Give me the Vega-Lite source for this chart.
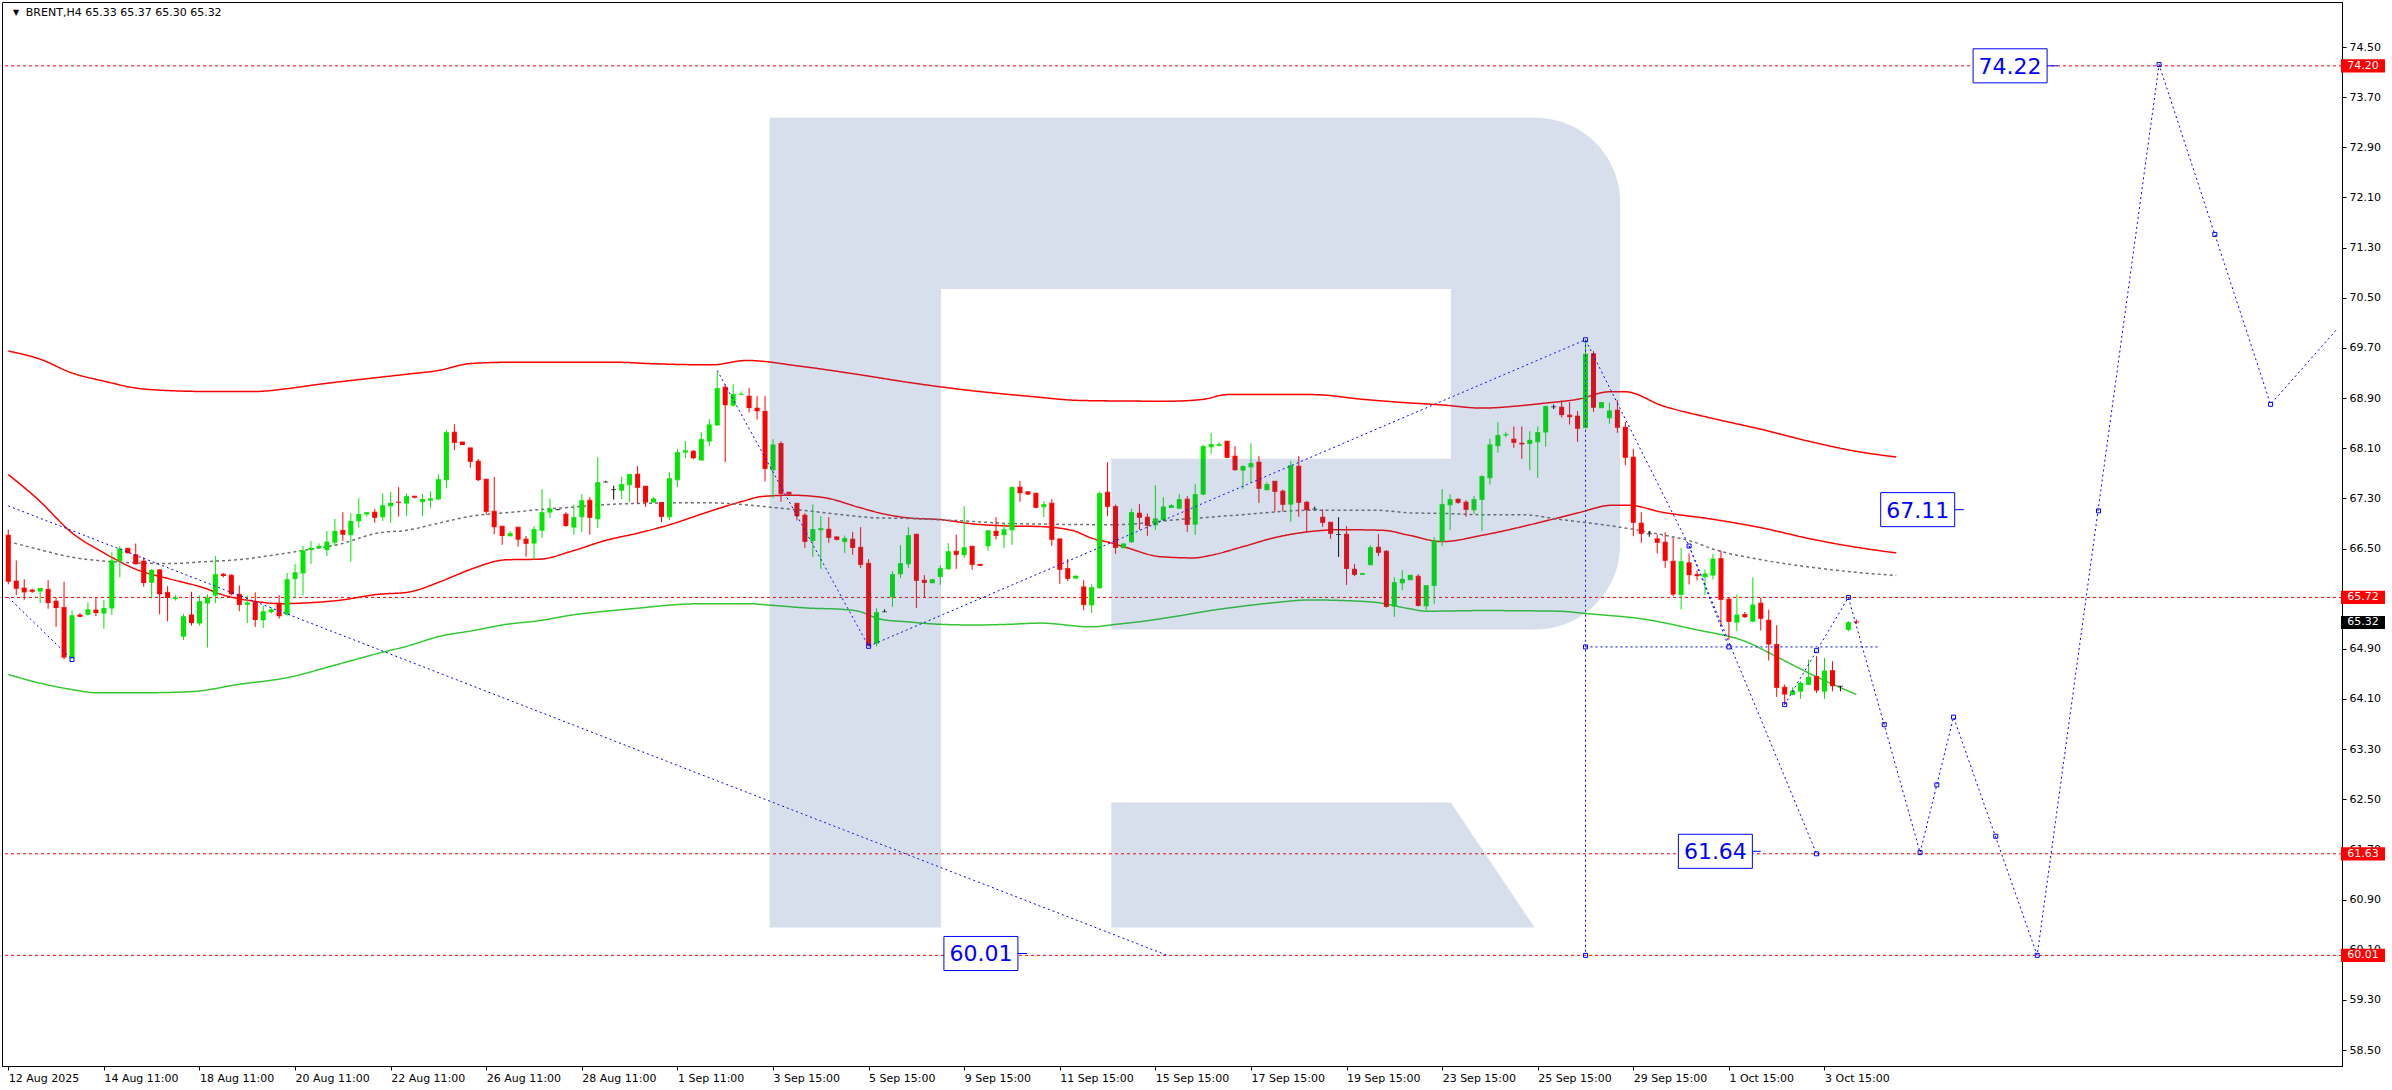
{
"$schema": "https://vega.github.io/schema/vega-lite/v6.json",
"width": 2340, "height": 1064,
"autosize": {"type": "none"},
"padding": {"left": 2, "top": 2, "right": 50, "bottom": 24},
"background": "white",
"config": {
  "view": {"stroke": "#000000", "strokeWidth": 1},
  "axis": {"grid": false, "domainColor": "#000000", "tickColor": "#000000", "labelColor": "#000000", "labelFont": "DejaVu Sans", "labelFontSize": 11, "tickSize": 4, "domainWidth": 1, "tickWidth": 1}
},
"datasets": {
  "k": [
{"i":0,"o":66.71,"h":66.80,"l":65.93,"c":65.97},{"i":1,"o":65.98,"h":66.31,"l":65.755,"c":65.86},{"i":2,"o":65.87,"h":66.01,"l":65.68,"c":65.80},{"i":3,"o":65.84,"h":65.86,"l":65.79,"c":65.81},{"i":4,"o":65.82,"h":65.87,"l":65.63,"c":65.87},{"i":5,"o":65.85,"h":65.995,"l":65.54,"c":65.63},{"i":6,"o":65.66,"h":65.71,"l":65.25,"c":65.55},{"i":7,"o":65.56,"h":65.97,"l":64.73,"c":64.76},{"i":8,"o":64.76,"h":65.51,"l":64.73,"c":65.435},{"i":9,"o":65.44,"h":65.47,"l":65.405,"c":65.41},
{"i":10,"o":65.45,"h":65.64,"l":65.43,"c":65.53},{"i":11,"o":65.52,"h":65.72,"l":65.42,"c":65.47},{"i":12,"o":65.47,"h":65.68,"l":65.22,"c":65.55},{"i":13,"o":65.55,"h":66.44,"l":65.44,"c":66.31},{"i":14,"o":66.31,"h":66.54,"l":66.04,"c":66.50},{"i":15,"o":66.505,"h":66.51,"l":66.42,"c":66.425},{"i":16,"o":66.40,"h":66.58,"l":66.245,"c":66.25},{"i":17,"o":66.30,"h":66.36,"l":65.89,"c":65.95},{"i":18,"o":65.96,"h":66.17,"l":65.70,"c":66.16},{"i":19,"o":66.16,"h":66.17,"l":65.45,"c":65.77},
{"i":20,"o":65.80,"h":65.90,"l":65.34,"c":65.71},{"i":21,"o":65.70,"h":65.755,"l":65.67,"c":65.72},{"i":22,"o":65.10,"h":65.46,"l":65.04,"c":65.42},{"i":23,"o":65.44,"h":65.81,"l":65.27,"c":65.31},{"i":24,"o":65.31,"h":65.75,"l":65.27,"c":65.66},{"i":25,"o":65.63,"h":65.77,"l":64.92,"c":65.72},{"i":26,"o":65.755,"h":66.38,"l":65.63,"c":66.09},{"i":27,"o":66.09,"h":66.11,"l":66.04,"c":66.06},{"i":28,"o":66.075,"h":66.085,"l":65.75,"c":65.77},{"i":29,"o":65.77,"h":65.91,"l":65.50,"c":65.60},
{"i":30,"o":65.61,"h":65.75,"l":65.31,"c":65.64},{"i":31,"o":65.64,"h":65.80,"l":65.25,"c":65.36},{"i":32,"o":65.36,"h":65.59,"l":65.23,"c":65.50},{"i":33,"o":65.49,"h":65.56,"l":65.46,"c":65.53},{"i":34,"o":65.63,"h":65.755,"l":65.38,"c":65.42},{"i":35,"o":65.45,"h":66.11,"l":65.43,"c":66.01},{"i":36,"o":66.02,"h":66.25,"l":65.71,"c":66.12},{"i":37,"o":66.11,"h":66.54,"l":65.75,"c":66.47},{"i":38,"o":66.48,"h":66.62,"l":66.255,"c":66.51},{"i":39,"o":66.51,"h":66.58,"l":66.50,"c":66.54},
{"i":40,"o":66.48,"h":66.78,"l":66.38,"c":66.61},{"i":41,"o":66.60,"h":66.97,"l":66.54,"c":66.78},{"i":42,"o":66.79,"h":67.08,"l":66.62,"c":66.72},{"i":43,"o":66.72,"h":67.06,"l":66.29,"c":66.94},{"i":44,"o":66.94,"h":67.30,"l":66.83,"c":67.05},{"i":45,"o":67.05,"h":67.08,"l":67.01,"c":67.08},{"i":46,"o":67.08,"h":67.13,"l":66.91,"c":66.99},{"i":47,"o":67.005,"h":67.38,"l":66.94,"c":67.19},{"i":48,"o":67.18,"h":67.40,"l":66.91,"c":67.23},{"i":49,"o":67.24,"h":67.48,"l":67.01,"c":67.23},
{"i":50,"o":67.224,"h":67.38,"l":67.02,"c":67.335},{"i":51,"o":67.335,"h":67.34,"l":67.30,"c":67.31},{"i":52,"o":67.245,"h":67.37,"l":67.02,"c":67.29},{"i":53,"o":67.27,"h":67.41,"l":67.15,"c":67.30},{"i":54,"o":67.29,"h":67.68,"l":67.27,"c":67.606},{"i":55,"o":67.596,"h":68.39,"l":67.46,"c":68.356},{"i":56,"o":68.356,"h":68.484,"l":68.07,"c":68.186},{"i":57,"o":68.20,"h":68.20,"l":68.15,"c":68.15},{"i":58,"o":68.106,"h":68.106,"l":67.79,"c":67.883},{"i":59,"o":67.894,"h":67.925,"l":67.575,"c":67.59},
{"i":60,"o":67.606,"h":67.606,"l":67.04,"c":67.085},{"i":61,"o":67.095,"h":67.64,"l":66.73,"c":66.84},{"i":62,"o":66.856,"h":66.856,"l":66.56,"c":66.70},{"i":63,"o":66.70,"h":66.776,"l":66.70,"c":66.745},{"i":64,"o":66.84,"h":66.84,"l":66.53,"c":66.64},{"i":65,"o":66.65,"h":66.70,"l":66.37,"c":66.575},{"i":66,"o":66.585,"h":66.856,"l":66.32,"c":66.81},{"i":67,"o":66.79,"h":67.447,"l":66.67,"c":67.08},{"i":68,"o":67.08,"h":67.30,"l":66.99,"c":67.138},{"i":69,"o":67.12,"h":67.13,"l":67.11,"c":67.12},
{"i":70,"o":67.048,"h":67.08,"l":66.846,"c":66.86},{"i":71,"o":66.84,"h":67.20,"l":66.72,"c":67.00},{"i":72,"o":67.005,"h":67.367,"l":66.766,"c":67.27},{"i":73,"o":67.27,"h":67.32,"l":66.72,"c":66.99},{"i":74,"o":66.973,"h":67.957,"l":66.825,"c":67.558},{"i":75,"o":67.56,"h":67.58,"l":67.56,"c":67.56},{"i":76,"o":67.44,"h":67.50,"l":67.28,"c":67.44},{"i":77,"o":67.43,"h":67.644,"l":67.29,"c":67.527},{"i":78,"o":67.516,"h":67.69,"l":67.24,"c":67.686},{"i":79,"o":67.686,"h":67.814,"l":67.218,"c":67.468},
{"i":80,"o":67.495,"h":67.495,"l":67.165,"c":67.234},{"i":81,"o":67.24,"h":67.32,"l":67.23,"c":67.298},{"i":82,"o":67.234,"h":67.234,"l":66.92,"c":67.005},{"i":83,"o":67.005,"h":67.718,"l":66.952,"c":67.622},{"i":84,"o":67.596,"h":68.09,"l":67.48,"c":68.037},{"i":85,"o":68.037,"h":68.213,"l":67.94,"c":68.064},{"i":86,"o":68.053,"h":68.07,"l":67.925,"c":67.94},{"i":87,"o":67.91,"h":68.356,"l":67.91,"c":68.245},{"i":88,"o":68.213,"h":68.564,"l":68.13,"c":68.479},{"i":89,"o":68.468,"h":69.319,"l":68.468,"c":69.058},
{"i":90,"o":69.074,"h":69.117,"l":67.878,"c":68.787},{"i":91,"o":68.787,"h":69.122,"l":68.76,"c":68.963},{"i":92,"o":68.958,"h":69.005,"l":68.952,"c":68.968},{"i":93,"o":68.93,"h":69.06,"l":68.67,"c":68.74},{"i":94,"o":68.74,"h":68.93,"l":68.56,"c":68.69},{"i":95,"o":68.69,"h":68.93,"l":67.57,"c":67.77},{"i":96,"o":67.755,"h":68.245,"l":67.31,"c":68.16},{"i":97,"o":68.175,"h":68.21,"l":67.245,"c":67.372},{"i":98,"o":67.40,"h":67.40,"l":67.36,"c":67.36},{"i":99,"o":67.223,"h":67.223,"l":66.947,"c":67.016},
{"i":100,"o":67.032,"h":67.064,"l":66.51,"c":66.606},{"i":101,"o":66.628,"h":67.202,"l":66.367,"c":66.81},{"i":102,"o":66.798,"h":67.016,"l":66.175,"c":66.824},{"i":103,"o":66.808,"h":67.0,"l":66.59,"c":66.67},{"i":104,"o":66.686,"h":66.69,"l":66.63,"c":66.638},{"i":105,"o":66.61,"h":66.707,"l":66.43,"c":66.665},{"i":106,"o":66.65,"h":66.766,"l":66.40,"c":66.51},{"i":107,"o":66.52,"h":66.84,"l":66.19,"c":66.24},{"i":108,"o":66.265,"h":66.33,"l":64.94,"c":64.95},{"i":109,"o":64.99,"h":65.548,"l":64.94,"c":65.484},
{"i":110,"o":65.49,"h":65.53,"l":65.49,"c":65.49},{"i":111,"o":65.73,"h":66.138,"l":65.57,"c":66.09},{"i":112,"o":66.096,"h":66.553,"l":66.03,"c":66.266},{"i":113,"o":66.255,"h":66.84,"l":66.19,"c":66.713},{"i":114,"o":66.729,"h":66.729,"l":65.553,"c":65.984},{"i":115,"o":65.995,"h":66.075,"l":65.713,"c":65.952},{"i":116,"o":65.952,"h":66.01,"l":65.95,"c":66.01},{"i":117,"o":66.053,"h":66.234,"l":65.92,"c":66.186},{"i":118,"o":66.176,"h":66.585,"l":66.16,"c":66.457},{"i":119,"o":66.457,"h":66.723,"l":66.175,"c":66.399},
{"i":120,"o":66.399,"h":67.175,"l":66.35,"c":66.521},{"i":121,"o":66.537,"h":66.537,"l":66.16,"c":66.239},{"i":122,"o":66.25,"h":66.25,"l":66.22,"c":66.223},{"i":123,"o":66.543,"h":66.79,"l":66.463,"c":66.79},{"i":124,"o":66.777,"h":66.999,"l":66.644,"c":66.702},{"i":125,"o":66.718,"h":66.904,"l":66.505,"c":66.808},{"i":126,"o":66.797,"h":67.495,"l":66.558,"c":67.479},{"i":127,"o":67.479,"h":67.574,"l":67.245,"c":67.383},{"i":128,"o":67.404,"h":67.415,"l":67.35,"c":67.362},{"i":129,"o":67.383,"h":67.383,"l":67.143,"c":67.149},
{"i":130,"o":67.165,"h":67.255,"l":67.0,"c":67.207},{"i":131,"o":67.223,"h":67.287,"l":66.543,"c":66.638},{"i":132,"o":66.654,"h":66.654,"l":65.936,"c":66.16},{"i":133,"o":66.18,"h":66.33,"l":65.98,"c":66.016},{"i":134,"o":66.027,"h":66.074,"l":66.016,"c":66.064},{"i":135,"o":65.888,"h":65.994,"l":65.516,"c":65.6},{"i":136,"o":65.6,"h":65.93,"l":65.473,"c":65.883},{"i":137,"o":65.872,"h":67.404,"l":65.862,"c":67.383},{"i":138,"o":67.399,"h":67.878,"l":67.016,"c":67.165},{"i":139,"o":67.17,"h":67.2,"l":66.415,"c":66.51},
{"i":140,"o":66.51,"h":66.58,"l":66.51,"c":66.58},{"i":141,"o":66.606,"h":67.133,"l":66.59,"c":67.08},{"i":142,"o":67.064,"h":67.207,"l":66.798,"c":66.99},{"i":143,"o":67.0,"h":67.058,"l":66.702,"c":66.862},{"i":144,"o":66.878,"h":67.51,"l":66.798,"c":66.979},{"i":145,"o":66.957,"h":67.32,"l":66.936,"c":67.17},{"i":146,"o":67.154,"h":67.207,"l":67.149,"c":67.191},{"i":147,"o":67.143,"h":67.367,"l":67.133,"c":67.287},{"i":148,"o":67.287,"h":67.335,"l":66.766,"c":66.878},{"i":149,"o":66.888,"h":67.527,"l":66.718,"c":67.367},
{"i":150,"o":67.367,"h":68.154,"l":67.351,"c":68.133},{"i":151,"o":68.122,"h":68.34,"l":68.01,"c":68.165},{"i":152,"o":68.144,"h":68.197,"l":68.128,"c":68.165},{"i":153,"o":68.213,"h":68.213,"l":67.947,"c":67.947},{"i":154,"o":67.973,"h":68.133,"l":67.74,"c":67.75},{"i":155,"o":67.75,"h":67.83,"l":67.452,"c":67.814},{"i":156,"o":67.803,"h":68.181,"l":67.553,"c":67.862},{"i":157,"o":67.878,"h":67.973,"l":67.229,"c":67.452},{"i":158,"o":67.436,"h":67.559,"l":67.431,"c":67.527},{"i":159,"o":67.574,"h":67.574,"l":67.09,"c":67.404},
{"i":160,"o":67.415,"h":67.441,"l":67.09,"c":67.197},{"i":161,"o":67.207,"h":67.894,"l":66.925,"c":67.83},{"i":162,"o":67.814,"h":67.973,"l":67.005,"c":67.229},{"i":163,"o":67.239,"h":67.255,"l":66.766,"c":67.112},{"i":164,"o":67.128,"h":67.17,"l":67.128,"c":67.128},{"i":165,"o":67.0,"h":67.122,"l":66.846,"c":66.91},{"i":166,"o":66.92,"h":66.92,"l":66.654,"c":66.734},{"i":167,"o":66.723,"h":67.0,"l":66.367,"c":66.723},{"i":168,"o":66.729,"h":66.856,"l":65.92,"c":66.175},{"i":169,"o":66.17,"h":66.25,"l":66.058,"c":66.08},
{"i":170,"o":66.085,"h":66.11,"l":66.08,"c":66.106},{"i":171,"o":66.24,"h":66.553,"l":66.24,"c":66.521},{"i":172,"o":66.521,"h":66.729,"l":66.378,"c":66.431},{"i":173,"o":66.457,"h":66.473,"l":65.558,"c":65.569},{"i":174,"o":65.58,"h":66.043,"l":65.409,"c":65.963},{"i":175,"o":65.952,"h":66.154,"l":65.835,"c":66.016},{"i":176,"o":66.0,"h":66.08,"l":66.0,"c":66.08},{"i":177,"o":66.058,"h":66.09,"l":65.574,"c":65.585},{"i":178,"o":65.585,"h":65.915,"l":65.516,"c":65.915},{"i":179,"o":65.91,"h":66.68,"l":65.617,"c":66.628},
{"i":180,"o":66.617,"h":67.447,"l":66.537,"c":67.207},{"i":181,"o":67.197,"h":67.362,"l":66.793,"c":67.287},{"i":182,"o":67.287,"h":67.298,"l":67.213,"c":67.229},{"i":183,"o":67.239,"h":67.271,"l":67.005,"c":67.117},{"i":184,"o":67.117,"h":67.34,"l":67.053,"c":67.287},{"i":185,"o":67.282,"h":67.67,"l":66.782,"c":67.654},{"i":186,"o":67.628,"h":68.25,"l":67.52,"c":68.16},{"i":187,"o":68.139,"h":68.516,"l":68.027,"c":68.309},{"i":188,"o":68.31,"h":68.362,"l":68.277,"c":68.32},{"i":189,"o":68.245,"h":68.447,"l":68.106,"c":68.186},
{"i":190,"o":68.181,"h":68.447,"l":67.931,"c":68.16},{"i":191,"o":68.176,"h":68.372,"l":67.75,"c":68.234},{"i":192,"o":68.202,"h":68.447,"l":67.628,"c":68.357},{"i":193,"o":68.357,"h":68.782,"l":68.122,"c":68.772},{"i":194,"o":68.761,"h":68.798,"l":68.724,"c":68.761},{"i":195,"o":68.756,"h":68.862,"l":68.59,"c":68.628},{"i":196,"o":68.628,"h":68.835,"l":68.479,"c":68.596},{"i":197,"o":68.612,"h":68.692,"l":68.202,"c":68.41},{"i":198,"o":68.426,"h":69.809,"l":68.426,"c":69.607},{"i":199,"o":69.607,"h":69.649,"l":68.681,"c":68.745},
{"i":200,"o":68.745,"h":68.835,"l":68.745,"c":68.835},{"i":201,"o":68.585,"h":68.825,"l":68.49,"c":68.702},{"i":202,"o":68.708,"h":68.867,"l":68.346,"c":68.426},{"i":203,"o":68.436,"h":68.516,"l":67.83,"c":67.947},{"i":204,"o":67.958,"h":68.09,"l":66.697,"c":66.91},{"i":205,"o":66.905,"h":67.08,"l":66.591,"c":66.734},{"i":206,"o":66.734,"h":66.777,"l":66.686,"c":66.734},{"i":207,"o":66.655,"h":66.724,"l":66.421,"c":66.591},{"i":208,"o":66.601,"h":66.761,"l":66.192,"c":66.304},{"i":209,"o":66.298,"h":66.67,"l":65.74,"c":65.766},
{"i":210,"o":65.766,"h":66.511,"l":65.527,"c":66.298},{"i":211,"o":66.272,"h":66.421,"l":65.926,"c":66.075},{"i":212,"o":66.085,"h":66.149,"l":65.99,"c":66.059},{"i":213,"o":66.048,"h":66.165,"l":65.755,"c":66.101},{"i":214,"o":66.075,"h":66.415,"l":66.006,"c":66.34},{"i":215,"o":66.34,"h":66.468,"l":65.261,"c":65.681},{"i":216,"o":65.692,"h":65.713,"l":65.048,"c":65.33},{"i":217,"o":65.325,"h":65.766,"l":65.181,"c":65.447},{"i":218,"o":65.447,"h":65.489,"l":65.394,"c":65.404},{"i":219,"o":65.34,"h":66.037,"l":65.325,"c":65.606},
{"i":220,"o":65.628,"h":65.713,"l":65.192,"c":65.378},{"i":221,"o":65.357,"h":65.522,"l":64.713,"c":64.969},{"i":222,"o":64.969,"h":65.277,"l":64.133,"c":64.277},{"i":223,"o":64.287,"h":64.33,"l":64.011,"c":64.17},{"i":224,"o":64.17,"h":64.287,"l":64.16,"c":64.234},{"i":225,"o":64.224,"h":64.384,"l":64.101,"c":64.357},{"i":226,"o":64.33,"h":64.729,"l":64.33,"c":64.452},{"i":227,"o":64.458,"h":64.782,"l":64.197,"c":64.234},{"i":228,"o":64.224,"h":64.755,"l":64.101,"c":64.553},{"i":229,"o":64.553,"h":64.703,"l":64.224,"c":64.304},
{"i":230,"o":64.304,"h":64.304,"l":64.224,"c":64.304},{"i":231,"o":65.208,"h":65.34,"l":65.181,"c":65.325},{"i":232,"o":65.33,"h":65.37,"l":65.30,"c":65.32}
  ],
  "b": [
{"s":"u","i":0,"v":69.65},{"s":"u","i":4,"v":69.52},{"s":"u","i":8,"v":69.30},{"s":"u","i":12,"v":69.17},{"s":"u","i":16,"v":69.06},{"s":"u","i":20,"v":69.02},{"s":"u","i":25,"v":69.005},{"s":"u","i":31,"v":69.005},{"s":"u","i":35,"v":69.05},{"s":"u","i":39,"v":69.12},{"s":"u","i":43,"v":69.18},{"s":"u","i":46.5,"v":69.23},{"s":"u","i":50,"v":69.28},{"s":"u","i":54,"v":69.34},{"s":"u","i":58,"v":69.45},{"s":"u","i":62.5,"v":69.47},{"s":"u","i":70,"v":69.47},{"s":"u","i":76.7,"v":69.47},{"s":"u","i":80.4,"v":69.45},{"s":"u","i":88.3,"v":69.43},{"s":"u","i":92.7,"v":69.50},{"s":"u","i":99.3,"v":69.41},{"s":"u","i":106.5,"v":69.28},{"s":"u","i":113,"v":69.15},{"s":"u","i":120.8,"v":69.02},{"s":"u","i":128,"v":68.93},{"s":"u","i":135,"v":68.86},{"s":"u","i":145.8,"v":68.85},{"s":"u","i":150,"v":68.88},{"s":"u","i":153,"v":68.955},{"s":"u","i":163.8,"v":68.955},{"s":"u","i":170,"v":68.88},{"s":"u","i":175,"v":68.83},{"s":"u","i":180,"v":68.79},{"s":"u","i":185,"v":68.74},{"s":"u","i":190,"v":68.78},{"s":"u","i":193,"v":68.82},{"s":"u","i":197,"v":68.88},{"s":"u","i":201,"v":69.0},{"s":"u","i":203,"v":69.0},{"s":"u","i":207.6,"v":68.78},{"s":"u","i":213.8,"v":68.58},{"s":"u","i":220.1,"v":68.40},{"s":"u","i":226.4,"v":68.2},{"s":"u","i":232,"v":68.05},{"s":"u","i":237,"v":67.96},
{"s":"m","i":0,"v":67.68},{"s":"m","i":3.75,"v":67.28},{"s":"m","i":8,"v":66.75},{"s":"m","i":12,"v":66.43},{"s":"m","i":16,"v":66.17},{"s":"m","i":20.4,"v":66.01},{"s":"m","i":24.6,"v":65.87},{"s":"m","i":26.7,"v":65.77},{"s":"m","i":30.8,"v":65.66},{"s":"m","i":34.2,"v":65.62},{"s":"m","i":37,"v":65.63},{"s":"m","i":41.3,"v":65.67},{"s":"m","i":46.5,"v":65.77},{"s":"m","i":50,"v":65.80},{"s":"m","i":54.2,"v":65.97},{"s":"m","i":56.3,"v":66.08},{"s":"m","i":58.3,"v":66.18},{"s":"m","i":62.5,"v":66.32},{"s":"m","i":66.7,"v":66.33},{"s":"m","i":70.8,"v":66.46},{"s":"m","i":75,"v":66.63},{"s":"m","i":79.2,"v":66.75},{"s":"m","i":83.3,"v":66.89},{"s":"m","i":87.5,"v":67.07},{"s":"m","i":92.1,"v":67.25},{"s":"m","i":94.6,"v":67.33},{"s":"m","i":98.3,"v":67.35},{"s":"m","i":102.5,"v":67.31},{"s":"m","i":106.7,"v":67.16},{"s":"m","i":109.6,"v":67.06},{"s":"m","i":112.9,"v":66.99},{"s":"m","i":117.1,"v":66.96},{"s":"m","i":121.3,"v":66.89},{"s":"m","i":125.4,"v":66.86},{"s":"m","i":129.6,"v":66.85},{"s":"m","i":133.8,"v":66.78},{"s":"m","i":135.9,"v":66.67},{"s":"m","i":138.4,"v":66.59},{"s":"m","i":140.5,"v":66.51},{"s":"m","i":144.6,"v":66.37},{"s":"m","i":148.8,"v":66.35},{"s":"m","i":150.9,"v":66.39},{"s":"m","i":155,"v":66.53},{"s":"m","i":159.2,"v":66.68},{"s":"m","i":163.4,"v":66.77},{"s":"m","i":167.5,"v":66.80},{"s":"m","i":172.6,"v":66.79},{"s":"m","i":175.9,"v":66.71},{"s":"m","i":180,"v":66.61},{"s":"m","i":185,"v":66.71},{"s":"m","i":193,"v":66.94},{"s":"m","i":197.1,"v":67.07},{"s":"m","i":201.3,"v":67.19},{"s":"m","i":203.4,"v":67.19},{"s":"m","i":207.6,"v":67.08},{"s":"m","i":213.8,"v":66.97},{"s":"m","i":220.1,"v":66.83},{"s":"m","i":226.4,"v":66.65},{"s":"m","i":232,"v":66.52},{"s":"m","i":237,"v":66.43},
{"s":"g","i":0,"v":66.61},{"s":"g","i":4,"v":66.48},{"s":"g","i":8,"v":66.36},{"s":"g","i":12,"v":66.30},{"s":"g","i":16,"v":66.27},{"s":"g","i":20.4,"v":66.26},{"s":"g","i":24.6,"v":66.29},{"s":"g","i":28.8,"v":66.32},{"s":"g","i":33,"v":66.39},{"s":"g","i":37,"v":66.47},{"s":"g","i":41.3,"v":66.56},{"s":"g","i":46.5,"v":66.75},{"s":"g","i":50,"v":66.79},{"s":"g","i":54.2,"v":66.91},{"s":"g","i":58.3,"v":67.02},{"s":"g","i":62.5,"v":67.07},{"s":"g","i":66.7,"v":67.12},{"s":"g","i":70.8,"v":67.16},{"s":"g","i":75,"v":67.20},{"s":"g","i":79.2,"v":67.22},{"s":"g","i":87.5,"v":67.23},{"s":"g","i":92.4,"v":67.20},{"s":"g","i":96.3,"v":67.15},{"s":"g","i":100.4,"v":67.10},{"s":"g","i":104.6,"v":67.04},{"s":"g","i":108.8,"v":66.99},{"s":"g","i":112.9,"v":66.98},{"s":"g","i":121.3,"v":66.93},{"s":"g","i":125.4,"v":66.90},{"s":"g","i":139,"v":66.88},{"s":"g","i":146.7,"v":66.96},{"s":"g","i":155,"v":67.04},{"s":"g","i":163.4,"v":67.11},{"s":"g","i":171.7,"v":67.11},{"s":"g","i":175.9,"v":67.07},{"s":"g","i":180,"v":67.06},{"s":"g","i":185,"v":67.04},{"s":"g","i":190,"v":67.04},{"s":"g","i":195,"v":66.96},{"s":"g","i":201.3,"v":66.86},{"s":"g","i":207.6,"v":66.72},{"s":"g","i":211.7,"v":66.6},{"s":"g","i":213.8,"v":66.5},{"s":"g","i":220.1,"v":66.32},{"s":"g","i":226.4,"v":66.2},{"s":"g","i":232,"v":66.12},{"s":"g","i":237,"v":66.07},
{"s":"lg","i":0,"v":64.49},{"s":"lg","i":3.75,"v":64.36},{"s":"lg","i":8,"v":64.25},{"s":"lg","i":11,"v":64.20},{"s":"lg","i":17.5,"v":64.20},{"s":"lg","i":23.3,"v":64.22},{"s":"lg","i":28.8,"v":64.33},{"s":"lg","i":35,"v":64.44},{"s":"lg","i":41.3,"v":64.65},{"s":"lg","i":46.5,"v":64.83},{"s":"lg","i":50,"v":64.94},{"s":"lg","i":54.2,"v":65.10},{"s":"lg","i":58.3,"v":65.19},{"s":"lg","i":62.5,"v":65.29},{"s":"lg","i":66.7,"v":65.35},{"s":"lg","i":70.8,"v":65.44},{"s":"lg","i":75,"v":65.50},{"s":"lg","i":79.2,"v":65.55},{"s":"lg","i":83.3,"v":65.60},{"s":"lg","i":87.5,"v":65.62},{"s":"lg","i":92.7,"v":65.62},{"s":"lg","i":96.3,"v":65.59},{"s":"lg","i":100.4,"v":65.55},{"s":"lg","i":104.6,"v":65.53},{"s":"lg","i":106.7,"v":65.50},{"s":"lg","i":109.6,"v":65.37},{"s":"lg","i":112.9,"v":65.33},{"s":"lg","i":117.1,"v":65.29},{"s":"lg","i":121.3,"v":65.28},{"s":"lg","i":125.4,"v":65.29},{"s":"lg","i":129.6,"v":65.31},{"s":"lg","i":135.9,"v":65.25},{"s":"lg","i":139,"v":65.29},{"s":"lg","i":142.5,"v":65.34},{"s":"lg","i":146.7,"v":65.42},{"s":"lg","i":150.9,"v":65.51},{"s":"lg","i":155,"v":65.58},{"s":"lg","i":159.2,"v":65.64},{"s":"lg","i":163.4,"v":65.68},{"s":"lg","i":167.5,"v":65.67},{"s":"lg","i":171.7,"v":65.64},{"s":"lg","i":175.9,"v":65.54},{"s":"lg","i":178,"v":65.50},{"s":"lg","i":185,"v":65.51},{"s":"lg","i":194.6,"v":65.50},{"s":"lg","i":198.3,"v":65.46},{"s":"lg","i":205.5,"v":65.37},{"s":"lg","i":211.7,"v":65.21},{"s":"lg","i":218,"v":65.02},{"s":"lg","i":222.2,"v":64.76},{"s":"lg","i":226.4,"v":64.49},{"s":"lg","i":232,"v":64.17}
  ],
  "f": [
{"seg":"a","k":1,"i":0,"p":65.72},{"seg":"a","k":2,"i":8,"p":64.73},
{"seg":"b","k":1,"i":0,"p":67.18},{"seg":"b","k":2,"i":145.5,"p":60.01},
{"seg":"c","k":1,"i":89,"p":69.34},{"seg":"c","k":2,"i":108,"p":64.94},{"seg":"c","k":3,"i":198,"p":69.83},{"seg":"c","k":4,"i":211,"p":66.54},{"seg":"c","k":5,"i":216,"p":64.93},
{"seg":"d","k":1,"i":211,"p":66.54},{"seg":"d","k":2,"i":227,"p":61.63},
{"seg":"e","k":1,"i":198,"p":69.83},{"seg":"e","k":2,"i":198,"p":60.01},
{"seg":"h","k":1,"i":198,"p":64.93},{"seg":"h","k":2,"i":235,"p":64.93},
{"seg":"g","k":1,"i":223,"p":64.01},{"seg":"g","k":2,"i":231,"p":65.72},{"seg":"g","k":3,"i":240,"p":61.65},{"seg":"g","k":4,"i":244.2,"p":63.81},{"seg":"g","k":5,"i":254.7,"p":60.01},{"seg":"g","k":6,"i":270,"p":74.22},{"seg":"g","k":7,"i":284,"p":68.8},{"seg":"g","k":8,"i":292.34,"p":70.0}
  ],
  "mk": [
{"i":8,"p":64.73},{"i":108,"p":64.94},{"i":198,"p":69.83},{"i":211,"p":66.54},{"i":216,"p":64.93},{"i":227,"p":61.63},{"i":198,"p":64.93},{"i":198,"p":60.01},{"i":223,"p":64.01},{"i":227,"p":64.87},{"i":231,"p":65.72},{"i":235.5,"p":63.69},{"i":240,"p":61.65},{"i":242.1,"p":62.73},{"i":244.2,"p":63.81},{"i":249.5,"p":61.91},{"i":254.7,"p":60.01},{"i":262.4,"p":67.1},{"i":270,"p":74.22},{"i":277,"p":71.51},{"i":284,"p":68.8}
  ],
  "lab": [
{"t":"74.22","i":251.3,"p":74.20,"a":255.9,"z":257.3},{"t":"67.11","i":239.7,"p":67.12,"a":244.3,"z":245.5},{"t":"61.64","i":214.3,"p":61.67,"a":218.9,"z":220.0},{"t":"60.01","i":122.1,"p":60.04,"a":126.7,"z":127.9}
  ]
},
"layer": [
  {
    "data": {"values": [{"p":74.20},{"p":65.72},{"p":61.63},{"p":60.01}]},
    "mark": {"type": "rule", "color": "#ff0000", "strokeWidth": 1, "strokeDash": [3, 3]},
    "encoding": {
      "y": {"field": "p", "type": "quantitative", "title": null, "scale": {"domain": [58.245, 75.218], "nice": false, "zero": false},
        "axis": {"orient": "right", "values": [58.5,59.3,60.1,60.9,61.7,62.5,63.3,64.1,64.9,65.7,66.5,67.3,68.1,68.9,69.7,70.5,71.3,72.1,72.9,73.7,74.5], "format": ".2f", "labelPadding": 3, "labelOverlap": false, "labelBaseline": "middle"}}
    }
  },
  {
    "data": {"name": "b"},
    "mark": {"type": "line", "interpolate": "monotone"},
    "encoding": {
      "x": {"field": "i", "type": "quantitative", "title": null, "scale": {"domain": [-0.1625, 292.3375], "nice": false, "zero": false},
        "axis": {"orient": "bottom", "values": [0,12,24,36,48,60,72,84,96,108,120,132,144,156,168,180,192,204,216,228],
          "labelExpr": "['12 Aug 2025','14 Aug 11:00','18 Aug 11:00','20 Aug 11:00','22 Aug 11:00','26 Aug 11:00','28 Aug 11:00','1 Sep 11:00','3 Sep 15:00','5 Sep 15:00','9 Sep 15:00','11 Sep 15:00','15 Sep 15:00','17 Sep 15:00','19 Sep 15:00','23 Sep 15:00','25 Sep 15:00','29 Sep 15:00','1 Oct 15:00','3 Oct 15:00'][round(datum.value/12)]",
          "labelAlign": "left", "labelBaseline": "top", "labelPadding": 2, "labelFlush": false, "labelOverlap": false}},
      "y": {"field": "v", "type": "quantitative", "title": null, "scale": {"domain": [58.245, 75.218], "nice": false, "zero": false}},
      "detail": {"field": "s"},
      "color": {"field": "s", "type": "nominal", "legend": null, "scale": {"domain": ["u","m","g","lg"], "range": ["#ff0000","#ff0000","#707070","#32c832"]}},
      "strokeDash": {"field": "s", "type": "nominal", "legend": null, "scale": {"domain": ["u","m","g","lg"], "range": [[1,0],[1,0],[3,3],[1,0]]}},
      "strokeWidth": {"field": "s", "type": "nominal", "legend": null, "scale": {"domain": ["u","m","g","lg"], "range": [1.5,1.5,1.2,1.5]}}
    }
  },
  {
    "data": {"name": "k"},
    "mark": {"type": "rule", "strokeWidth": 1},
    "encoding": {
      "x": {"field": "i", "type": "quantitative", "title": null, "scale": {"domain": [-0.1625, 292.3375], "nice": false, "zero": false}},
      "y": {"field": "l", "type": "quantitative", "title": null, "scale": {"domain": [58.245, 75.218], "nice": false, "zero": false}},
      "y2": {"field": "h"},
      "color": {"condition": [{"test": "datum.c > datum.o", "value": "#00e600"}, {"test": "datum.c < datum.o", "value": "#ff0000"}], "value": "#000000"}
    }
  },
  {
    "data": {"name": "k"},
    "mark": {"type": "bar", "size": 5},
    "encoding": {
      "x": {"field": "i", "type": "quantitative", "title": null, "scale": {"domain": [-0.1625, 292.3375], "nice": false, "zero": false}},
      "y": {"field": "o", "type": "quantitative", "title": null, "scale": {"domain": [58.245, 75.218], "nice": false, "zero": false}},
      "y2": {"field": "c"},
      "color": {"condition": [{"test": "datum.c > datum.o", "value": "#00e600"}, {"test": "datum.c < datum.o", "value": "#ff0000"}], "value": "#000000"}
    }
  },
  {
    "data": {"name": "k"},
    "mark": {"type": "tick", "orient": "horizontal", "size": 5, "thickness": 1},
    "encoding": {
      "x": {"field": "i", "type": "quantitative", "title": null, "scale": {"domain": [-0.1625, 292.3375], "nice": false, "zero": false}},
      "y": {"field": "o", "type": "quantitative", "title": null, "scale": {"domain": [58.245, 75.218], "nice": false, "zero": false}},
      "color": {"condition": [{"test": "datum.c > datum.o", "value": "#00e600"}, {"test": "datum.c < datum.o", "value": "#ff0000"}], "value": "#000000"}
    }
  },
  {
    "data": {"name": "f"},
    "mark": {"type": "line", "color": "#0000ff", "strokeWidth": 1, "strokeDash": [2, 3]},
    "encoding": {
      "x": {"field": "i", "type": "quantitative", "title": null, "scale": {"domain": [-0.1625, 292.3375], "nice": false, "zero": false}},
      "y": {"field": "p", "type": "quantitative", "title": null, "scale": {"domain": [58.245, 75.218], "nice": false, "zero": false}},
      "detail": {"field": "seg"},
      "order": {"field": "k"}
    }
  },
  {
    "data": {"name": "mk"},
    "mark": {"type": "point", "shape": "square", "size": 16, "filled": false, "stroke": "#0000ff", "strokeWidth": 1, "opacity": 1},
    "encoding": {
      "x": {"field": "i", "type": "quantitative", "title": null, "scale": {"domain": [-0.1625, 292.3375], "nice": false, "zero": false}},
      "y": {"field": "p", "type": "quantitative", "title": null, "scale": {"domain": [58.245, 75.218], "nice": false, "zero": false}}
    }
  },
  {
    "data": {"values": [{"x1":95.59,"x2":117.09,"y1":60.455,"y2":73.37},{"x1":117.09,"x2":181.09,"y1":70.64,"y2":73.37},{"x1":138.46,"x2":181.09,"y1":65.21,"y2":67.93}]},
    "mark": {"type": "rect", "color": "#345f9a", "opacity": 0.2},
    "encoding": {
      "x": {"field": "x1", "type": "quantitative", "title": null, "scale": {"domain": [-0.1625, 292.3375], "nice": false, "zero": false}},
      "x2": {"field": "x2"},
      "y": {"field": "y1", "type": "quantitative", "title": null, "scale": {"domain": [58.245, 75.218], "nice": false, "zero": false}},
      "y2": {"field": "y2"}
    }
  },
  {
    "data": {"values": [{"x1":181.09,"x2":202.34,"y1":65.21,"y2":73.37}]},
    "mark": {"type": "rect", "color": "#345f9a", "opacity": 0.2, "cornerRadiusTopRight": 165, "cornerRadiusBottomRight": 155},
    "encoding": {
      "x": {"field": "x1", "type": "quantitative", "title": null, "scale": {"domain": [-0.1625, 292.3375], "nice": false, "zero": false}},
      "x2": {"field": "x2"},
      "y": {"field": "y1", "type": "quantitative", "title": null, "scale": {"domain": [58.245, 75.218], "nice": false, "zero": false}},
      "y2": {"field": "y2"}
    }
  },
  {
    "data": {"values": [{"x":138.46,"t":62.45,"b":60.455},{"x":181.09,"t":62.45,"b":60.455},{"x":191.6,"t":60.455,"b":60.455}]},
    "mark": {"type": "area", "color": "#345f9a", "opacity": 0.2, "interpolate": "linear"},
    "encoding": {
      "x": {"field": "x", "type": "quantitative", "title": null, "scale": {"domain": [-0.1625, 292.3375], "nice": false, "zero": false}},
      "y": {"field": "t", "type": "quantitative", "title": null, "scale": {"domain": [58.245, 75.218], "nice": false, "zero": false}},
      "y2": {"field": "b"}
    }
  },
  {
    "data": {"name": "lab"},
    "mark": {"type": "rule", "color": "#0000ff", "strokeWidth": 1},
    "encoding": {
      "x": {"field": "a", "type": "quantitative", "title": null, "scale": {"domain": [-0.1625, 292.3375], "nice": false, "zero": false}},
      "x2": {"field": "z"},
      "y": {"field": "p", "type": "quantitative", "title": null, "scale": {"domain": [58.245, 75.218], "nice": false, "zero": false}}
    }
  },
  {
    "data": {"name": "lab"},
    "mark": {"type": "point", "shape": "M-1,-0.46L1,-0.46L1,0.46L-1,0.46Z", "size": 5476, "filled": true, "fill": "#ffffff", "stroke": "#0000ff", "strokeWidth": 1, "opacity": 1},
    "encoding": {
      "x": {"field": "i", "type": "quantitative", "title": null, "scale": {"domain": [-0.1625, 292.3375], "nice": false, "zero": false}},
      "y": {"field": "p", "type": "quantitative", "title": null, "scale": {"domain": [58.245, 75.218], "nice": false, "zero": false}}
    }
  },
  {
    "data": {"name": "lab"},
    "mark": {"type": "text", "font": "DejaVu Sans", "fontSize": 22, "color": "#0000ff", "align": "center", "baseline": "middle", "dy": 1},
    "encoding": {
      "x": {"field": "i", "type": "quantitative", "title": null, "scale": {"domain": [-0.1625, 292.3375], "nice": false, "zero": false}},
      "y": {"field": "p", "type": "quantitative", "title": null, "scale": {"domain": [58.245, 75.218], "nice": false, "zero": false}},
      "text": {"field": "t"}
    }
  },
  {
    "data": {"values": [{"t":"74.20","p":74.20,"k":"r"},{"t":"65.72","p":65.72,"k":"r"},{"t":"65.32","p":65.32,"k":"b"},{"t":"61.63","p":61.63,"k":"r"},{"t":"60.01","p":60.01,"k":"r"}]},
    "mark": {"type": "point", "shape": "M-1,-0.3L1,-0.3L1,0.3L-1,0.3Z", "size": 1936, "filled": true, "strokeWidth": 0, "opacity": 1},
    "encoding": {
      "x": {"datum": 295.6, "type": "quantitative", "title": null, "scale": {"domain": [-0.1625, 292.3375], "nice": false, "zero": false}},
      "y": {"field": "p", "type": "quantitative", "title": null, "scale": {"domain": [58.245, 75.218], "nice": false, "zero": false}},
      "fill": {"condition": {"test": "datum.k == 'b'", "value": "#000000"}, "value": "#ff0000"}
    }
  },
  {
    "data": {"values": [{"t":"74.20","p":74.20},{"t":"65.72","p":65.72},{"t":"65.32","p":65.32},{"t":"61.63","p":61.63},{"t":"60.01","p":60.01}]},
    "mark": {"type": "text", "font": "DejaVu Sans", "fontSize": 11, "color": "#ffffff", "align": "center", "baseline": "middle"},
    "encoding": {
      "x": {"datum": 295.6, "type": "quantitative", "title": null, "scale": {"domain": [-0.1625, 292.3375], "nice": false, "zero": false}},
      "y": {"field": "p", "type": "quantitative", "title": null, "scale": {"domain": [58.245, 75.218], "nice": false, "zero": false}},
      "text": {"field": "t"}
    }
  },
  {
    "data": {"values": [{"t":"▼"}]},
    "mark": {"type": "text", "font": "DejaVu Sans", "fontSize": 8, "color": "#000000", "align": "center", "baseline": "middle"},
    "encoding": {
      "x": {"datum": 0.97, "type": "quantitative", "title": null, "scale": {"domain": [-0.1625, 292.3375], "nice": false, "zero": false}},
      "y": {"datum": 75.04, "type": "quantitative", "title": null, "scale": {"domain": [58.245, 75.218], "nice": false, "zero": false}},
      "text": {"field": "t"}
    }
  },
  {
    "data": {"values": [{"t":"BRENT,H4  65.33 65.37 65.30 65.32"}]},
    "mark": {"type": "text", "font": "DejaVu Sans", "fontSize": 11, "color": "#000000", "align": "left", "baseline": "middle"},
    "encoding": {
      "x": {"datum": 2.2, "type": "quantitative", "title": null, "scale": {"domain": [-0.1625, 292.3375], "nice": false, "zero": false}},
      "y": {"datum": 75.04, "type": "quantitative", "title": null, "scale": {"domain": [58.245, 75.218], "nice": false, "zero": false}},
      "text": {"field": "t"}
    }
  }
]
}
